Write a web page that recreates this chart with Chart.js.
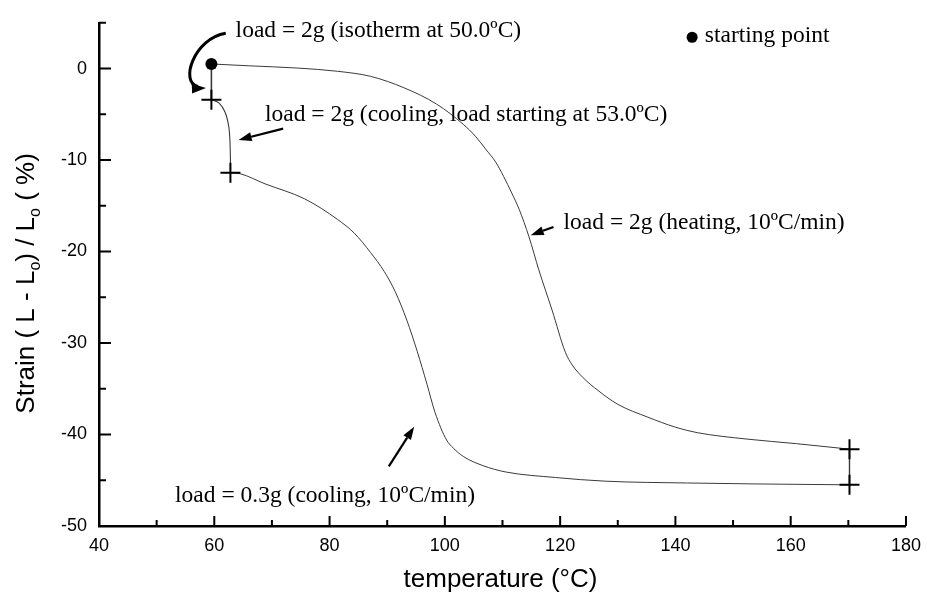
<!DOCTYPE html>
<html>
<head>
<meta charset="utf-8">
<script src="https://cdn.jsdelivr.net/npm/chart.js@4.4.1/dist/chart.umd.min.js"></script>
<style>
  html, body { margin: 0; padding: 0; background: #fff; }
  canvas { display: block; }
</style>
</head>
<body>
<canvas id="strain-chart" width="930" height="603"></canvas>
<script>
'use strict';

/* ── データ（温度 °C / ひずみ %） ─────────────────── */
// 加熱 load = 2g
const HEAT_T = [59.5, 66.0, 74.5, 81.4, 87.1, 92.9, 98.6, 103.2, 105.3, 107.2, 108.8, 110.2, 111.6, 112.9, 114.6, 116.3, 118.6, 120.9, 122.1, 124.0, 126.6, 130.0, 135.2, 140.0, 143.8, 152.4, 161.0, 170.2];
const HEAT_S = [0.5, 0.3, 0.05, -0.3, -0.85, -2.1, -3.9, -6.1, -7.4, -8.9, -10.2, -11.8, -13.6, -15.4, -18.4, -22.0, -26.4, -31.0, -32.4, -33.8, -35.2, -36.7, -38.1, -39.2, -39.8, -40.5, -41.0, -41.6];
// 冷却 load = 0.3g
const COOL_T = [62.8, 64.5, 68.8, 75.7, 81.4, 84.3, 87.1, 89.5, 91.4, 93.4, 95.2, 96.9, 98.3, 100.3, 101.5, 103.2, 106.6, 110.6, 119.2, 127.8, 142.1, 153.6, 170.2];
const COOL_S = [-11.4, -11.5, -12.6, -14.25, -16.5, -18.0, -20.1, -22.2, -24.4, -27.5, -30.9, -34.5, -37.6, -40.6, -41.5, -42.4, -43.4, -44.1, -44.7, -45.1, -45.3, -45.4, -45.5];
// 冷却 load = 2g（53.0ºC から）
const LOAD_T = [59.5, 60.8, 61.9, 62.5, 62.7, 62.8, 62.8];
const LOAD_S = [-3.4, -3.75, -4.8, -6.3, -7.7, -9.9, -11.4];
// 等温 50.0ºC
const ISO_T = [59.5, 59.5];
const ISO_S = [0.5, -3.4];
// 170ºC での荷重切替
const STEP_T = [170.2, 170.2];
const STEP_S = [-41.6, -45.5];
// 区切りマーカー (+)
const CROSS_T = [59.5, 62.8, 170.2, 170.2];
const CROSS_S = [-3.4, -11.4, -41.6, -45.5];
// 開始点
const START_T = [59.5];
const START_S = [0.5];

const X_TICKS = [40, 60, 80, 100, 120, 140, 160, 180];
const Y_TICKS = [-50, -40, -30, -20, -10, 0];

/* ── 注記（データ座標） ─────────────────── */
const NOTES = [
  { t: 63.7,  s: 3.5,    text: 'load = 2g (isotherm at 50.0ºC)' },
  { t: 68.8,  s: -5.7,   text: 'load = 2g (cooling, load starting at 53.0ºC)' },
  { t: 120.6, s: -17.57, text: 'load = 2g (heating, 10ºC/min)' },
  { t: 53.2,  s: -47.37, text: 'load = 0.3g (cooling, 10ºC/min)' },
  { t: 145.1, s: 2.85,   text: 'starting point' },
];
const LEGEND_DOT = [142.9, 3.42];
const ARROWS = [
  { from: [71.95, -6.57],   to: [64.22, -7.80] },
  { from: [118.85, -17.32], to: [114.9, -18.22] },
  { from: [90.28, -43.49],  to: [94.68, -39.15] },
];
const CURVED_ARROW = [[61.99, 3.85], [56.49, 3.31], [53.92, -1.57], [58.55, -2.12]];

const SANS  = '"Liberation Sans", Arial, sans-serif';
const SERIF = '"Liberation Serif", "Times New Roman", serif';

const pts = (xs, ys) => xs.map((x, i) => ({ x, y: ys[i] }));

function drawHead(ctx, fx, fy, tx, ty, len, half) {
  const a = Math.atan2(ty - fy, tx - fx);
  const bx = tx - len * Math.cos(a), by = ty - len * Math.sin(a);
  ctx.beginPath();
  ctx.moveTo(tx, ty);
  ctx.lineTo(bx - half * Math.sin(a), by + half * Math.cos(a));
  ctx.lineTo(bx + half * Math.sin(a), by - half * Math.cos(a));
  ctx.closePath();
  ctx.fill();
  return [bx, by];
}

/* ── 軸の内向き目盛り・軸タイトル ─────────────────── */
const axisDeco = {
  id: 'axisDeco',
  afterDraw(chart) {
    const { ctx, chartArea: a, scales: { x, y } } = chart;
    ctx.save();
    ctx.strokeStyle = '#000';
    ctx.lineWidth = 2;
    ctx.beginPath();
    for (let v = 40; v <= 180; v += 10) {
      const px = x.getPixelForValue(v);
      ctx.moveTo(px, a.bottom);
      ctx.lineTo(px, a.bottom - (v % 20 === 0 ? 10 : 6));
    }
    for (let v = -50; v <= 5; v += 5) {
      const py = y.getPixelForValue(v);
      ctx.moveTo(a.left, py);
      ctx.lineTo(a.left + (v % 10 === 0 ? 12 : 7), py);
    }
    ctx.stroke();

    ctx.fillStyle = '#000';
    // x タイトル
    ctx.font = `26px ${SANS}`;
    ctx.textAlign = 'center';
    ctx.textBaseline = 'alphabetic';
    ctx.fillText('temperature (°C)', (a.left + a.right) / 2 - 2, a.bottom + 61);

    // y タイトル（下付き o）
    const parts = [['Strain ( L - L', 0], ['o', 1], [') / L', 0], ['o', 1], [' ( %)', 0]];
    const big = `26px ${SANS}`, small = `16px ${SANS}`;
    let total = 0;
    parts.forEach(([s, sub]) => { ctx.font = sub ? small : big; total += ctx.measureText(s).width; });
    ctx.translate(a.left - 65.5, (a.top + a.bottom) / 2 + 9);
    ctx.rotate(-Math.PI / 2);
    ctx.textAlign = 'left';
    let cx = -total / 2;
    parts.forEach(([s, sub]) => {
      ctx.font = sub ? small : big;
      ctx.fillText(s, cx, sub ? 6 : 0);
      cx += ctx.measureText(s).width;
    });
    ctx.restore();
  }
};

/* ── 注記・矢印 ─────────────────── */
const notes = {
  id: 'notes',
  afterDraw(chart) {
    const { ctx, scales: { x, y } } = chart;
    const P = ([t, s]) => [x.getPixelForValue(t), y.getPixelForValue(s)];
    ctx.save();
    ctx.fillStyle = '#000';
    ctx.strokeStyle = '#000';
    ctx.font = `23.5px ${SERIF}`;
    ctx.textAlign = 'left';
    ctx.textBaseline = 'alphabetic';
    NOTES.forEach(n => ctx.fillText(n.text, x.getPixelForValue(n.t), y.getPixelForValue(n.s)));

    const [dx, dy] = P(LEGEND_DOT);
    ctx.beginPath();
    ctx.arc(dx, dy, 5.5, 0, Math.PI * 2);
    ctx.fill();

    ctx.lineWidth = 2.2;
    ARROWS.forEach(ar => {
      const [fx, fy] = P(ar.from), [tx, ty] = P(ar.to);
      const [bx, by] = drawHead(ctx, fx, fy, tx, ty, 13, 4.5);
      ctx.beginPath();
      ctx.moveTo(fx, fy);
      ctx.lineTo(bx, by);
      ctx.stroke();
    });

    const c = CURVED_ARROW.map(P);
    ctx.lineWidth = 3;
    ctx.beginPath();
    ctx.moveTo(c[0][0], c[0][1]);
    ctx.bezierCurveTo(c[1][0], c[1][1], c[2][0], c[2][1], c[3][0] - 8, c[3][1] - 1.5);
    ctx.stroke();
    drawHead(ctx, c[2][0], c[2][1] + 6, c[3][0], c[3][1], 14, 5);
    ctx.restore();
  }
};

const lineDs = (xs, ys, w, smooth) => ({
  data: pts(xs, ys),
  showLine: true,
  borderColor: '#3a3a3a',
  borderWidth: w,
  pointRadius: 0,
  ...(smooth === 'monotone' ? { cubicInterpolationMode: 'monotone' } : { tension: smooth }),
});

const ctx = document.getElementById('strain-chart');
new Chart(ctx, {
  type: 'scatter',
  data: {
    datasets: [
      { data: pts(START_T, START_S), pointStyle: 'circle', pointRadius: 6, backgroundColor: '#000', borderColor: '#000', borderWidth: 0 },
      { data: pts(CROSS_T, CROSS_S), pointStyle: 'cross', pointRadius: 10, borderColor: '#000', borderWidth: 2 },
      lineDs(ISO_T, ISO_S, 1.6, 0),
      lineDs(STEP_T, STEP_S, 1.4, 0),
      lineDs(LOAD_T, LOAD_S, 1.1, 0.3),
      lineDs(COOL_T, COOL_S, 1, 'monotone'),
      lineDs(HEAT_T, HEAT_S, 1, 'monotone'),
    ],
  },
  options: {
    responsive: false,
    animation: false,
    layout: { padding: { top: 19, right: 16, left: 0, bottom: 0 } },
    plugins: { legend: { display: false }, tooltip: { enabled: false } },
    scales: {
      x: {
        type: 'linear', min: 40, max: 180,
        afterBuildTicks: s => { s.ticks = X_TICKS.map(value => ({ value })); },
        afterFit: s => { s.height = 77; },
        ticks: { color: '#000', font: { family: SANS, size: 18 }, padding: 9, maxRotation: 0 },
        grid: { display: false, drawTicks: false },
        border: { color: '#000', width: 2.5 },
      },
      y: {
        type: 'linear', min: -50, max: 5,
        afterBuildTicks: s => { s.ticks = Y_TICKS.map(value => ({ value })); },
        afterFit: s => { s.width = 99; },
        ticks: { color: '#000', font: { family: SANS, size: 18 }, padding: 12 },
        grid: { display: false, drawTicks: false },
        border: { color: '#000', width: 2.5 },
      },
    },
  },
  plugins: [axisDeco, notes],
});
</script>
</body>
</html>
